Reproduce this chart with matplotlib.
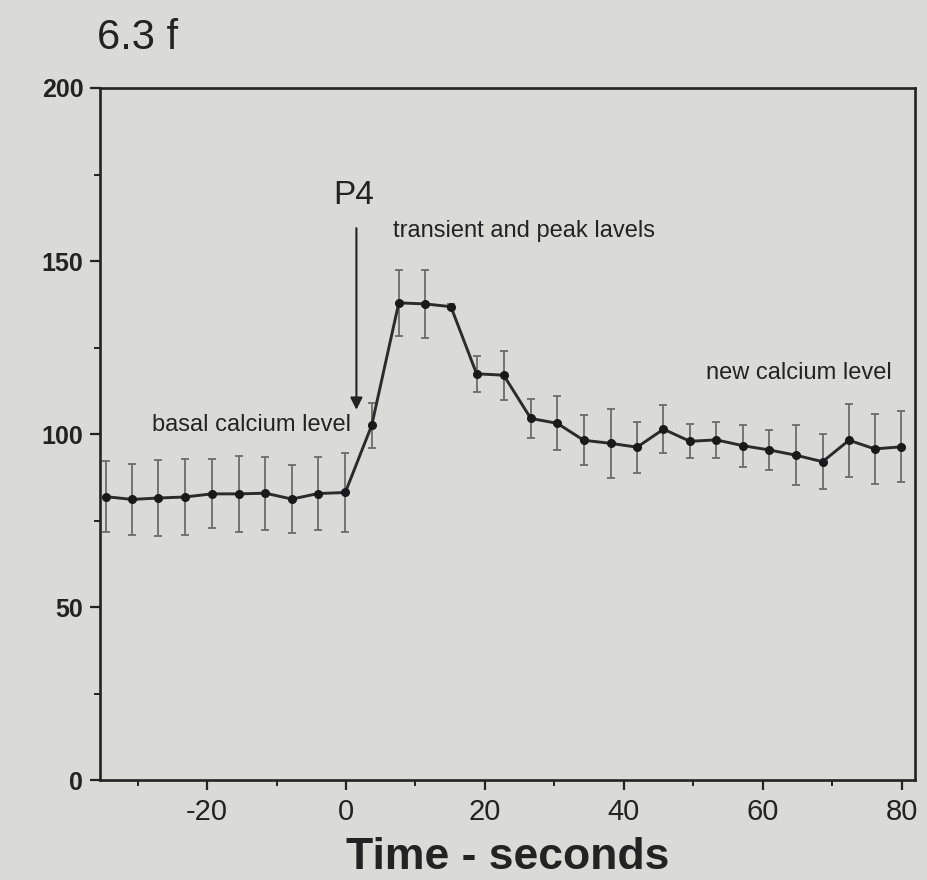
import numpy as np
import matplotlib
matplotlib.use('Agg')
import matplotlib.pyplot as plt
from matplotlib.ticker import MultipleLocator

plt.rcParams['axes.unicode_minus'] = False

# время (с) и уровень кальция
time_s = [-34.6, -30.8, -27.0, -23.2, -19.3, -15.4, -11.6, -7.8, -4.0, -0.1,
          3.7, 7.6, 11.4, 15.1, 18.8, 22.7, 26.6, 30.4, 34.2, 38.1,
          41.9, 45.7, 49.5, 53.3, 57.2, 60.9, 64.7, 68.6, 72.4, 76.1, 79.9]
calcium = [81.9, 81.1, 81.5, 81.8, 82.7, 82.7, 82.9, 81.2, 82.8, 83.1,
           102.5, 137.9, 137.6, 136.8, 117.4, 117.0, 104.5, 103.1, 98.2, 97.3,
           96.2, 101.4, 97.9, 98.3, 96.6, 95.4, 93.9, 92.0, 98.2, 95.7, 96.3]
err = [10.2, 10.3, 11.0, 10.9, 10.0, 10.9, 10.5, 9.9, 10.5, 11.3,
       6.4, 9.6, 9.8, 0.8, 5.2, 7.1, 5.6, 7.8, 7.2, 10.0,
       7.4, 7.0, 4.9, 5.3, 6.0, 5.9, 8.7, 8.0, 10.6, 10.1, 10.3]

bg = '#dadad6'
ink = '#232323'
sans = 'Liberation Sans'

fig = plt.figure(figsize=(9.28, 8.8), dpi=100, facecolor=bg)
ax = fig.add_axes([0.1078, 0.1136, 0.8782, 0.7864], facecolor=bg)

ax.errorbar(time_s, calcium, yerr=err, fmt='none', ecolor='#6c6c6c',
            elinewidth=1.3, capsize=3, capthick=1.3, zorder=2)
ax.plot(time_s, calcium, color='#2b2b2b', lw=2.1, marker='o', ms=5.5,
        mfc='#1a1a1a', mec='#1a1a1a', zorder=3)

ax.set_xlim(-35.4, 81.9)
ax.set_ylim(0, 200)
ax.xaxis.set_major_locator(MultipleLocator(20))
ax.xaxis.set_minor_locator(MultipleLocator(10))
ax.yaxis.set_major_locator(MultipleLocator(50))
ax.yaxis.set_minor_locator(MultipleLocator(25))

for s in ax.spines.values():
    s.set_linewidth(1.9)
    s.set_color(ink)
ax.tick_params(which='major', direction='out', length=7, width=1.6, color=ink)
ax.tick_params(which='minor', direction='out', length=4, width=1.4, color=ink)
ax.tick_params(axis='y', pad=5)
ax.tick_params(axis='x', pad=6)
for lab in ax.get_yticklabels():
    lab.set_fontsize(18)
    lab.set_fontweight('bold')
    lab.set_color(ink)
    lab.set_family(sans)
for lab in ax.get_xticklabels():
    lab.set_fontsize(21)
    lab.set_color(ink)
    lab.set_family(sans)

ax.set_xlabel('Time - seconds', fontsize=32, fontweight='bold', color=ink,
              family=sans, labelpad=8)

fig.text(0.104, 0.957, '6.3 f', fontsize=30, color=ink, family=sans,
         va='center', ha='left')

ax.text(-1.9, 169, 'P4', fontsize=24, color=ink, family=sans,
        va='center', ha='left')
ax.annotate('', xy=(1.5, 107), xytext=(1.5, 159.5),
            arrowprops=dict(arrowstyle='-|>', color=ink, lw=1.5,
                            mutation_scale=18, shrinkA=0, shrinkB=0))
ax.text(6.8, 158.7, 'transient and peak lavels', fontsize=17, color=ink,
        family=sans, va='center', ha='left')
ax.text(-27.9, 102.7, 'basal calcium level', fontsize=17, color=ink,
        family=sans, va='center', ha='left')
ax.text(51.8, 117.5, 'new calcium level', fontsize=17, color=ink,
        family=sans, va='center', ha='left')

fig.savefig('out.png', dpi=100, facecolor=bg)
